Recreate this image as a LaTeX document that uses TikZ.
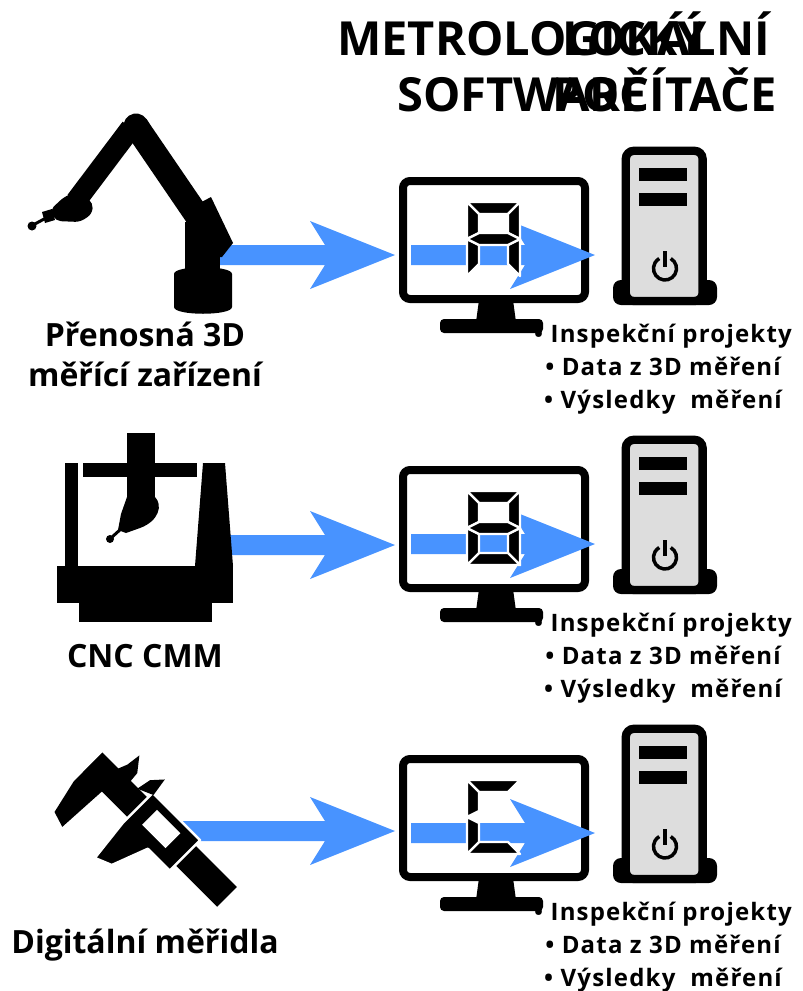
\documentclass[tikz,border=0pt]{standalone}
\usepackage{fontspec}
\setmainfont{Open Sans}
\definecolor{flowblue}{HTML}{4893FF}
\definecolor{casegrey}{HTML}{DDDDDD}

% seven-segment digit pieces (local frame: 53 x 74, y downwards)
\newcommand\dsega{\path[seg] (0,0) -- (53,0) -- (41,12) -- (12,12) -- cycle;}
\newcommand\dsegb{\path[seg] (53,0) -- (53,37) -- (41,31) -- (41,12) -- cycle;}
\newcommand\dsegc{\path[seg] (53,37) -- (53,74) -- (41,62) -- (41,43) -- cycle;}
\newcommand\dsegd{\path[seg] (0,74) -- (12,62) -- (41,62) -- (53,74) -- cycle;}
\newcommand\dsege{\path[seg] (0,37) -- (12,43) -- (12,62) -- (0,74) -- cycle;}
\newcommand\dsegf{\path[seg] (0,0) -- (12,12) -- (12,31) -- (0,37) -- cycle;}
\newcommand\dsegg{\path[seg] (0,37) -- (12,31) -- (41,31) -- (53,37) -- (41,43) -- (12,43) -- cycle;}

\begin{document}
\begin{tikzpicture}[x=1pt,y=-1pt,
  ink/.style={fill=black},
  flow/.style={fill=flowblue},
  seg/.style={fill=black, draw=white, line width=2.4pt, line join=round},
  title/.style={font=\fontsize{47}{56}\selectfont\bfseries, inner sep=0pt},
  devlabel/.style={font=\fontsize{32}{40}\selectfont\bfseries, inner sep=0pt, anchor=base},
  listitem/.style={font=\fontsize{24}{33}\selectfont\bfseries\addfontfeatures{LetterSpace=5}, inner sep=0pt, anchor=base}]

\useasboundingbox (0,0) rectangle (803,991);
\fill[white] (0,0) rectangle (803,991);

% headings
\node[title, anchor=base west] (softA) at (337,55) {METROLOGICKÝ};
\node[title, anchor=base west] (softB) at (397,111) {SOFTWARE};
\node[title, anchor=base east] (pcA) at (770,55) {LOKÁLNÍ};
\node[title, anchor=base east] (pcB) at (777,111) {POČÍTAČE};

% arrows from the measuring devices to the monitors
\foreach \sx/\c in {215/255, 225/545, 180/831}{
  \fill[flow] (\sx,\c-10) -- (325,\c-10) -- (310,\c-34) -- (395,\c)
    -- (310,\c+34) -- (325,\c+10) -- (\sx,\c+10) -- cycle;
}

% workstation rows: monitor, tower, data list
\foreach \dy/\segs [count=\i] in {0/{a,b,c,e,f,g}, 289/{a,b,c,d,e,f,g}, 578/{a,d,e,f}}{
  \begin{scope}[yshift=-\dy pt]
    % monitor stand
    \fill[ink] (479,300) -- (513,300) -- (516,322) -- (476,322) -- cycle;
    \fill[ink, rounded corners=4pt] (440,319) -- (543,319) -- (543,333) -- (440,333) -- cycle;
    % monitor frame
    \draw[line width=8pt, fill=white, rounded corners=7pt] (403,181) -- (585,181) -- (585,299) -- (403,299) -- cycle;
    % arrow through the screen
    \fill[flow] (411,245) -- (525,245) -- (510,221) -- (595,255)
      -- (510,289) -- (525,265) -- (411,265) -- cycle;
    % digit
    \begin{scope}[xshift=467pt, yshift=-202pt]
      \foreach \s in \segs {\csname dseg\s\endcsname}
    \end{scope}
    % computer tower
    \fill[ink, rounded corners=8pt] (613,305) -- (613,280) -- (717,280) -- (717,305) -- cycle;
    \draw[line width=8.3pt, fill=casegrey, rounded corners=8pt] (625.8,301) -- (625.8,150.8) -- (702.6,150.8) -- (702.6,301) -- cycle;
    \fill[ink] (639,168) -- (687,168) -- (687,181) -- (639,181) -- cycle;
    \fill[ink] (639,193) -- (687,193) -- (687,206) -- (639,206) -- cycle;
    \draw[line width=3.5pt] (665,268.5) ++(-60:11.5) arc[start angle=-60, end angle=240, radius=11.5];
    \draw[line width=3.5pt] (665,251) -- (665,267);
    % data list
    \node[listitem] (list\i a) at (663,342) {• Inspekční projekty};
    \node[listitem] (list\i b) at (663,375) {• Data z 3D měření};
    \node[listitem] (list\i c) at (663,408) {• Výsledky\ \ měření};
  \end{scope}
}

% portable measuring arm
\fill[ink] (174,274) .. controls (174,265) and (232,265) .. (232,274) -- (232,307)
  .. controls (232,316) and (174,316) .. (174,307) -- cycle;
\fill[ink] (185,222) -- (220,222) -- (220,270) -- (185,270) -- cycle;
\draw[line width=25pt, line cap=round] (136,126) -- (138,129);
\draw[line width=25pt] (136,126) -- (207,230);
\draw[line width=21pt] (131,128) -- (76,201);
\fill[ink] (196,205) -- (211,197) -- (233,243) -- (222,257) -- (208,257) -- cycle;
\fill[ink, rounded corners=5pt] (50,210) -- (64,197) -- (78,191) -- (93,203) -- (92,214) -- (80,222) -- (56,221) -- cycle;
\fill[ink] (42,212) -- (52,209) -- (55,220) -- (45,223) -- cycle;
\draw[line width=3pt] (46,218) -- (33,225);
\fill[ink] (32,226) circle (4.5);
\node[devlabel] (armA) at (145,346) {Přenosná 3D};
\node[devlabel] (armB) at (145,386) {měřící zařízení};

% CNC coordinate measuring machine
\fill[ink] (65,463) -- (78,463) -- (78,566) -- (65,566) -- cycle;
\fill[ink] (83,463) -- (197,463) -- (197,477) -- (83,477) -- cycle;
\fill[ink] (127,433) -- (155,433) -- (155,500) -- (127,500) -- cycle;
\fill[ink] (127,497) -- (155,497) .. controls (163,505) and (159,521) .. (140,528)
  -- (126,533) -- (118,530) -- (121,514) -- cycle;
\draw[line width=3pt] (122,528) -- (111,538);
\fill[ink] (110,539) circle (4);
\fill[ink] (203,463) -- (225,463) -- (233,566) -- (195,566) -- cycle;
\fill[ink] (57,566) -- (233,566) -- (233,603) -- (57,603) -- cycle;
\fill[ink] (79,603) -- (212,603) -- (212,622) -- (79,622) -- cycle;
\node[devlabel] (cmm) at (145,667) {CNC CMM};

% digital caliper (frame along the beam)
\begin{scope}[xshift=92.7pt, yshift=-762.5pt, x={(0.7071pt,-0.7071pt)}, y={(0.7071pt,0.7071pt)}]
  \fill[ink] (0,-14) -- (190,-14) -- (190,14) -- (0,14) -- cycle;
  \fill[ink] (0,14) -- (0,-27) -- (8,-62) -- (24,-67) -- (27,-14) -- cycle;
  \fill[ink] (22,13) -- (26,23) -- (28,38) -- (39,24) -- (40,13) -- cycle;
  \path[fill=black, draw=white, line width=2.5pt, line join=round]
    (64,21) -- (131,21) -- (131,-22) -- (100,-22) -- (86,-59) -- (69,-66) -- (64,-22) -- cycle;
  \fill[ink] (50,13) -- (53,28) -- (63,39) -- (66,20) -- cycle;
  \fill[white] (79,-9) -- (112,-9) -- (112,12) -- (79,12) -- cycle;
\end{scope}
\node[devlabel] (cal) at (145,953) {Digitální měřidla};

\end{tikzpicture}
\end{document}
